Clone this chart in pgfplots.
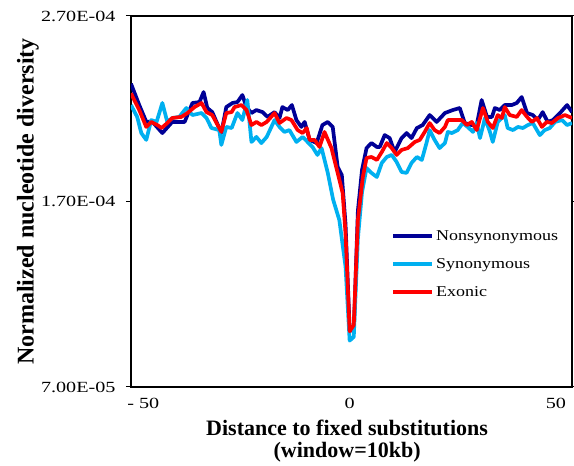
\documentclass[border=0pt]{standalone}
\usepackage{fontspec}
\setmainfont{Liberation Serif}
\newfontfamily\widefont[FakeStretch=1.2]{Liberation Serif}
\newfontfamily\tickfont[FakeStretch=1.3]{Liberation Serif}
\usepackage{pgfplots}
\usepackage{pgfplotstable}
\pgfplotsset{compat=1.18}

\definecolor{navyline}{HTML}{000096}
\definecolor{skyline}{HTML}{00B0F0}
\definecolor{redline}{HTML}{FF0000}

% nonsynonymous
\pgfplotstableread{
x y
-53 2.335e-4
-51 2.22e-4
-49.3 2.130e-4
-47.8 2.129e-4
-45.4 2.069e-4
-43 2.129e-4
-40 2.129e-4
-38.1 2.231e-4
-36.4 2.236e-4
-35.4 2.290e-4
-34.5 2.204e-4
-33.3 2.182e-4
-31.1 2.069e-4
-29.9 2.209e-4
-28.4 2.231e-4
-27.2 2.236e-4
-26 2.274e-4
-25 2.209e-4
-23.8 2.177e-4
-22.6 2.193e-4
-21.1 2.182e-4
-19.9 2.156e-4
-18.2 2.182e-4
-17 2.150e-4
-16.3 2.209e-4
-15 2.193e-4
-14 2.220e-4
-12.9 2.139e-4
-11.7 2.102e-4
-10.9 2.129e-4
-9.7 2.032e-4
-8 2.015e-4
-6.6 2.112e-4
-5.3 2.129e-4
-4.1 2.102e-4
-2.9 1.886e-4
-1.9 1.843e-4
-1 1.58e-4
0 1.01e-4
1 1.00e-4
2 1.65e-4
3 1.87e-4
4.1 1.988e-4
5.3 2.015e-4
6.6 1.994e-4
7.3 1.994e-4
8.5 2.058e-4
9.7 2.042e-4
10.9 1.967e-4
12.6 2.042e-4
13.8 2.069e-4
15 2.042e-4
16.3 2.096e-4
17.7 2.112e-4
19.4 2.166e-4
21.1 2.129e-4
23.1 2.177e-4
25 2.193e-4
26.7 2.204e-4
27.9 2.123e-4
29.6 2.112e-4
30.8 2.112e-4
32 2.247e-4
33.3 2.156e-4
34.5 2.156e-4
35.2 2.204e-4
36.4 2.193e-4
37.6 2.220e-4
39.3 2.220e-4
40.5 2.231e-4
41.7 2.263e-4
43 2.177e-4
44.4 2.166e-4
45.6 2.139e-4
46.8 2.182e-4
48 2.129e-4
49.3 2.139e-4
51 2.177e-4
52.7 2.220e-4
53.9 2.182e-4
}\nonsyn

% synonymous
\pgfplotstableread{
x y
-53 2.220e-4
-51.5 2.156e-4
-50.5 2.069e-4
-49.3 2.032e-4
-48.1 2.139e-4
-46.8 2.129e-4
-45.4 2.231e-4
-44.2 2.129e-4
-43 2.150e-4
-41.3 2.156e-4
-39.6 2.204e-4
-38.1 2.166e-4
-35.9 2.177e-4
-34.7 2.150e-4
-33.5 2.096e-4
-31.6 2.085e-4
-31.1 2.005e-4
-29.9 2.102e-4
-28.6 2.096e-4
-27.2 2.177e-4
-26 2.139e-4
-24.8 2.247e-4
-23.8 2.021e-4
-22.6 2.048e-4
-21.4 2.015e-4
-20.1 2.048e-4
-18.2 2.139e-4
-17 2.102e-4
-15.8 2.075e-4
-14.6 2.085e-4
-12.9 2.021e-4
-11.4 2.048e-4
-10.2 2.021e-4
-9 1.994e-4
-7.8 1.951e-4
-6.8 1.988e-4
-5.3 1.854e-4
-4 1.710e-4
-2.5 1.600e-4
-1 1.350e-4
0 0.950e-4
1 0.970e-4
2 1.500e-4
3 1.750e-4
4.1 1.881e-4
5.3 1.854e-4
6.6 1.832e-4
7.8 1.908e-4
9 1.940e-4
10.2 1.951e-4
11.4 1.913e-4
12.6 1.859e-4
13.8 1.854e-4
15 1.908e-4
16.3 1.940e-4
17.5 1.924e-4
18.7 2.021e-4
19.4 2.085e-4
20.6 2.032e-4
21.8 1.988e-4
23.1 2.015e-4
23.8 2.075e-4
24.8 2.069e-4
26.2 2.085e-4
27.4 2.123e-4
28.6 2.102e-4
29.9 2.075e-4
30.8 2.123e-4
31.6 2.042e-4
32.8 2.150e-4
34 2.075e-4
34.7 2.021e-4
35.9 2.129e-4
36.9 2.150e-4
37.6 2.166e-4
38.3 2.096e-4
39.6 2.085e-4
40.8 2.102e-4
42 2.096e-4
43.2 2.112e-4
44.4 2.123e-4
46.1 2.058e-4
47.3 2.085e-4
48.5 2.096e-4
49.8 2.129e-4
51.5 2.139e-4
52.7 2.112e-4
53.9 2.123e-4
}\syn

% exonic
\pgfplotstableread{
x y
-53 2.283e-4
-51 2.193e-4
-49.3 2.102e-4
-48.1 2.129e-4
-46.6 2.112e-4
-45.6 2.096e-4
-44.2 2.123e-4
-43 2.150e-4
-40.8 2.156e-4
-39.3 2.177e-4
-37.6 2.209e-4
-35.9 2.231e-4
-34.7 2.182e-4
-33.3 2.166e-4
-31.1 2.075e-4
-29.9 2.177e-4
-28.6 2.182e-4
-27.9 2.209e-4
-26.2 2.220e-4
-25 2.193e-4
-23.8 2.112e-4
-22.6 2.129e-4
-21.4 2.112e-4
-20.1 2.129e-4
-18.2 2.177e-4
-17 2.123e-4
-15.3 2.150e-4
-14.1 2.139e-4
-12.6 2.085e-4
-11.4 2.069e-4
-10.4 2.096e-4
-9.7 2.032e-4
-8.5 2.032e-4
-7.3 1.994e-4
-6.1 2.075e-4
-4.4 1.988e-4
-2.9 1.854e-4
-1.7 1.746e-4
-1 1.530e-4
0 1.000e-4
1 1.034e-4
2 1.600e-4
3.2 1.832e-4
4.1 1.935e-4
5.3 1.940e-4
6.6 1.924e-4
7.8 1.967e-4
9 2.015e-4
10.2 1.988e-4
11.4 1.951e-4
12.6 1.978e-4
14.1 1.988e-4
15.8 2.021e-4
17 2.032e-4
18.2 2.075e-4
19.4 2.123e-4
20.6 2.085e-4
21.8 2.069e-4
23.1 2.102e-4
23.8 2.139e-4
25.5 2.139e-4
27.2 2.139e-4
28.4 2.112e-4
29.6 2.129e-4
30.8 2.085e-4
32.3 2.204e-4
33.5 2.129e-4
34.7 2.096e-4
35.9 2.166e-4
36.9 2.150e-4
37.6 2.209e-4
38.8 2.166e-4
40.5 2.156e-4
41.7 2.193e-4
43 2.156e-4
44.2 2.129e-4
45.4 2.150e-4
46.6 2.102e-4
47.8 2.129e-4
49 2.123e-4
50.5 2.150e-4
52.2 2.166e-4
53.9 2.150e-4
}\exonic

\begin{document}
\begin{tikzpicture}
\useasboundingbox (-131pt,-79pt) rectangle (443pt,387pt);
\begin{axis}[
  scale only axis, width=441pt, height=371pt,
  at={(0,0)}, anchor=south west,
  xmin=-53, xmax=53.9, ymin=7e-5, ymax=2.7e-4,
  scaled y ticks=false,
  /pgf/number format/assume math mode=true,
  xtick={-50,0,50}, xticklabels={- 50,0,50},
  ytick={7e-5,1.7e-4,2.7e-4},
  yticklabels={7.00E-05,1.70E-04,2.70E-04},
  axis line style={black, line width=1.5pt},
  tick align=outside, major tick length=5pt,
  ytick style={black, line width=1pt},
  xtick style={draw=none},
  ticklabel style={font=\tickfont\fontsize{15.5}{18}\selectfont},
  xticklabel style={yshift=-3pt},
  yticklabel style={xshift=-7pt},
  xlabel={Distance to fixed substitutions\\(window=10kb)},
  xlabel style={font=\bfseries\fontsize{22}{22}\selectfont, align=center,
    at={(axis description cs:0.49,-0.146)}, anchor=center},
  ylabel={Normalized nucleotide diversity},
  ylabel style={font=\bfseries\fontsize{24}{24}\selectfont,
    at={(axis description cs:-0.234,0.5)}, anchor=center},
  legend cell align=left,
  legend style={draw=none, fill=none, inner sep=0pt,
    at={(axis description cs:0.59,0.428)}, anchor=north west,
    font=\widefont\fontsize{15}{17}\selectfont, row sep=12.5pt,
    nodes={inner xsep=2pt}},
  legend image code/.code={\draw[#1] (0pt,0pt) -- (39pt,0pt);},
  every axis plot/.append style={line width=3.7pt, line join=round},
]
\addplot[navyline] table[x=x, y=y] {\nonsyn};
\addlegendentry{Nonsynonymous}
\addplot[skyline] table[x=x, y=y] {\syn};
\addlegendentry{Synonymous}
\addplot[redline] table[x=x, y=y] {\exonic};
\addlegendentry{Exonic}
\end{axis}
\end{tikzpicture}
\end{document}
